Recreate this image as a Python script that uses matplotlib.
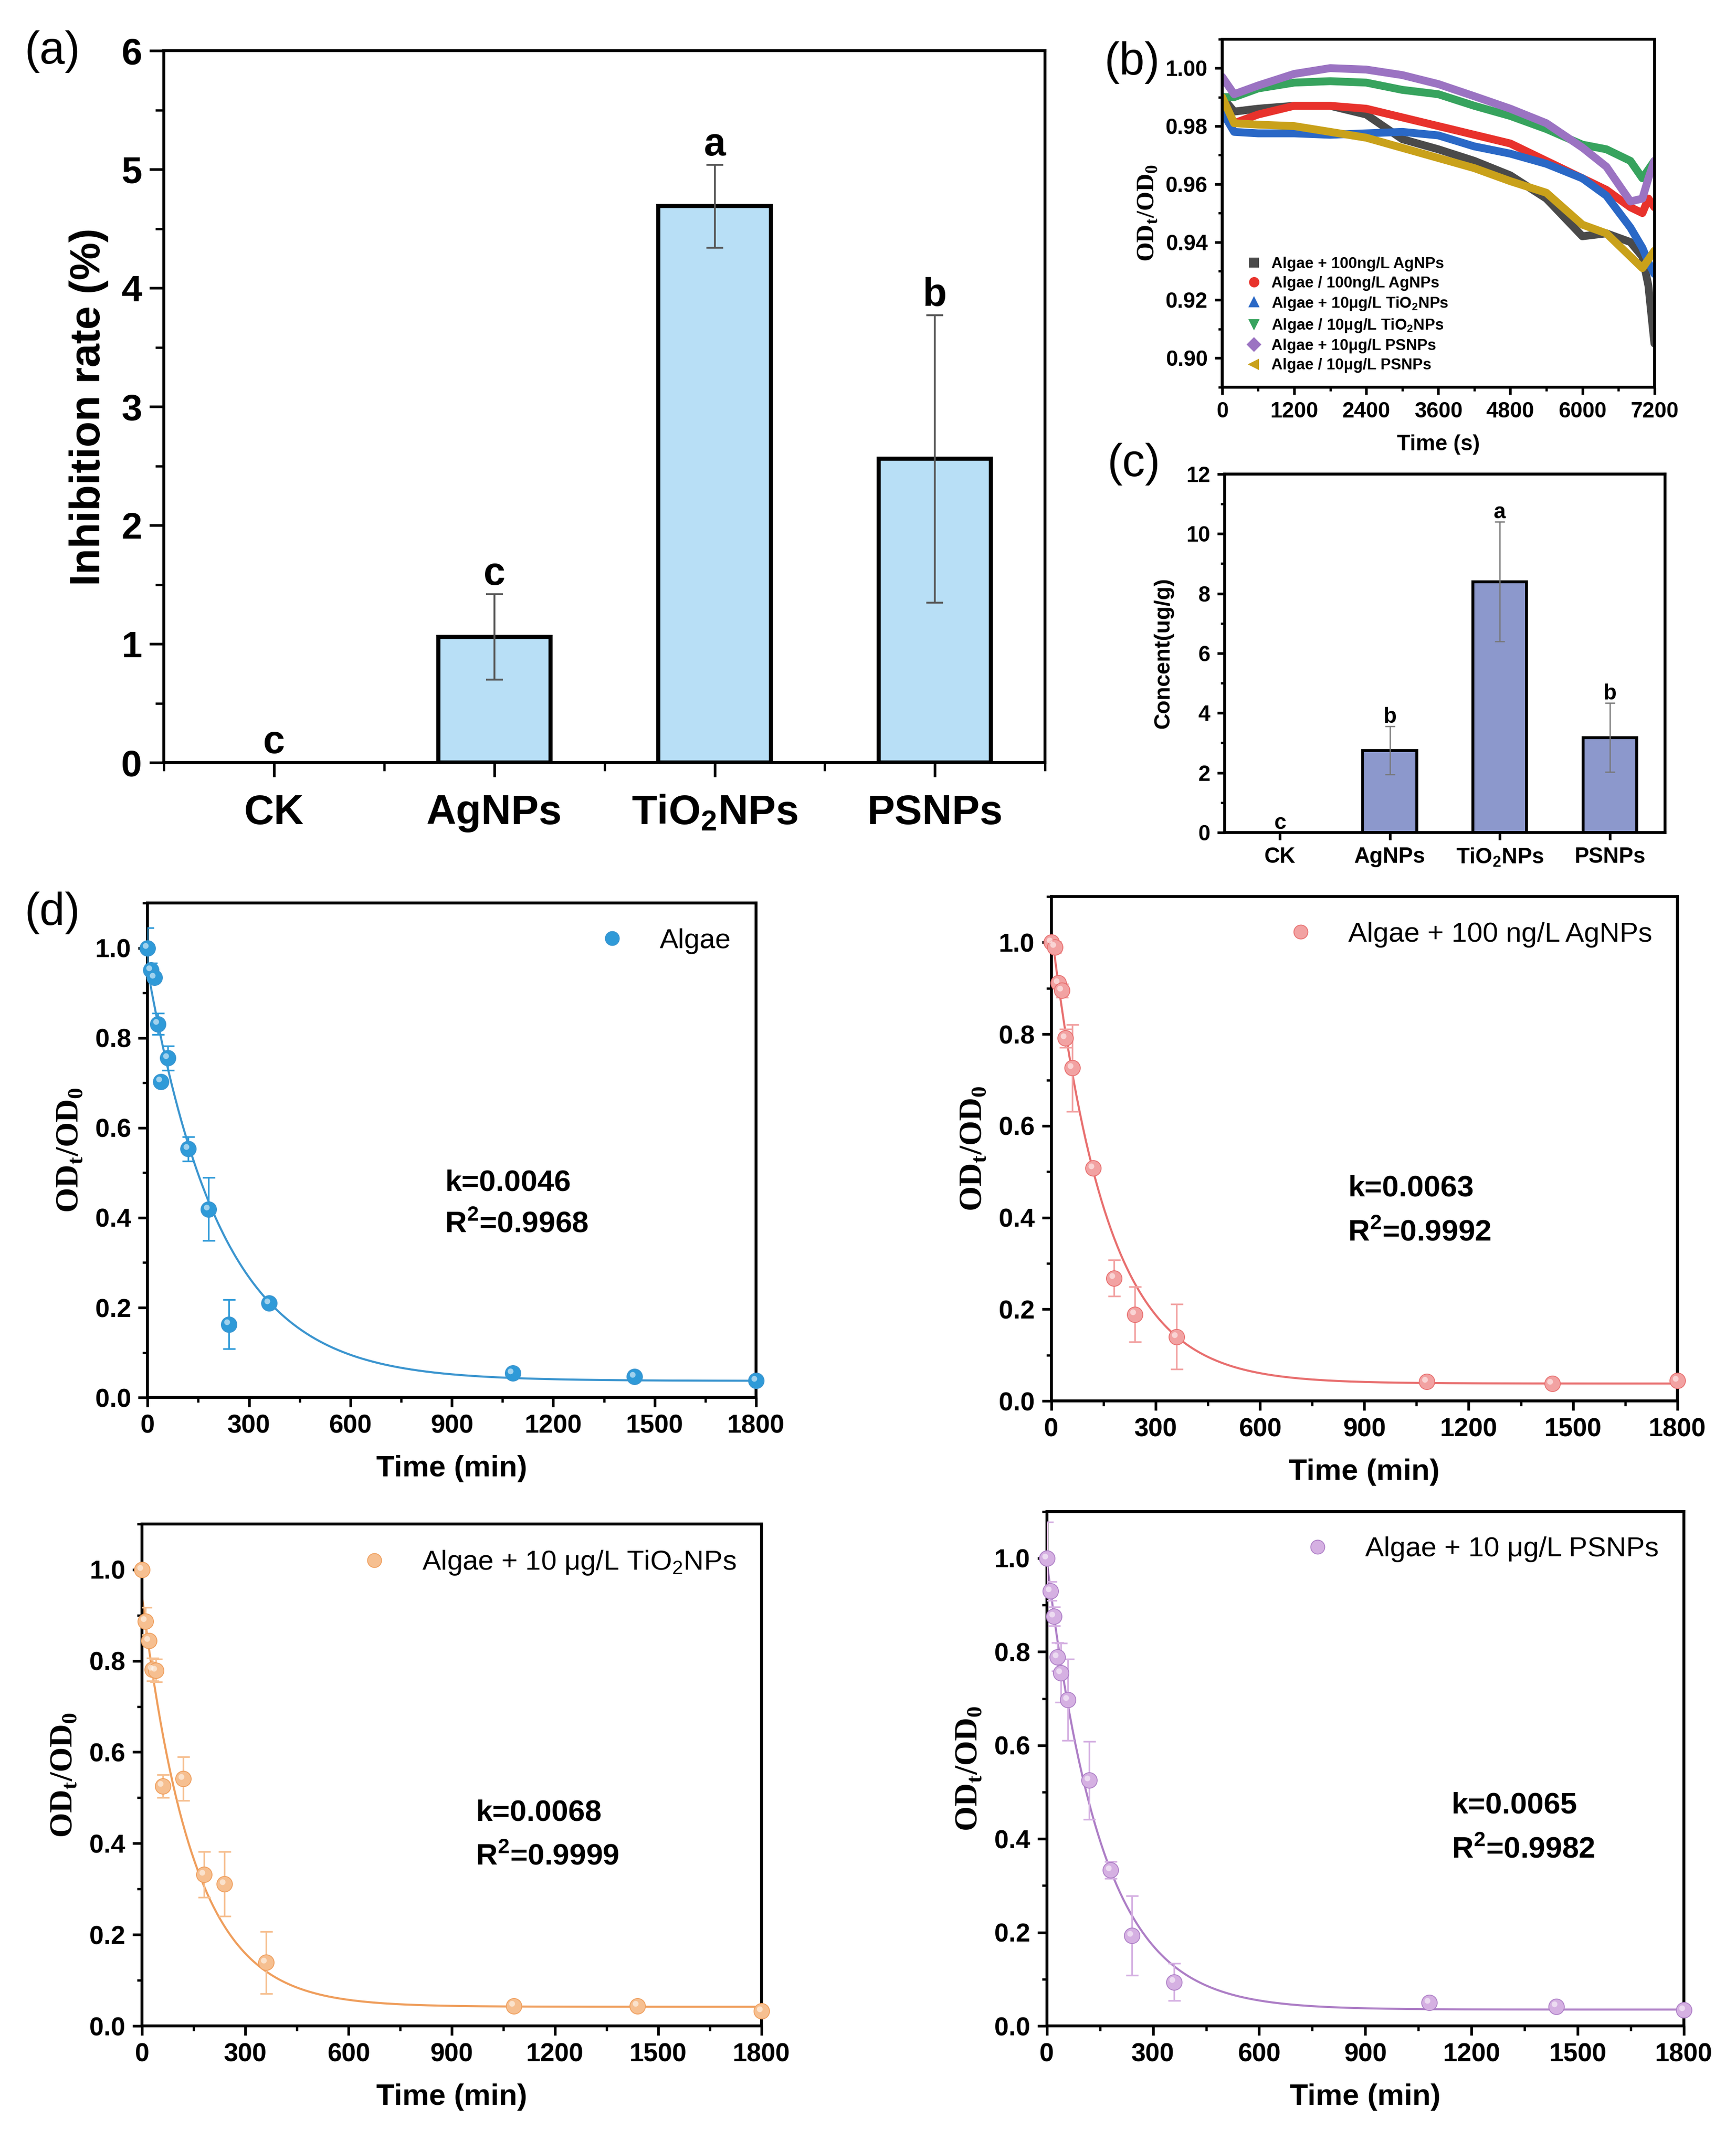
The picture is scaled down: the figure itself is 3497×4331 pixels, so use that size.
import numpy as np
import matplotlib
matplotlib.use("Agg")
import matplotlib.pyplot as plt
from matplotlib.lines import Line2D
from matplotlib.ticker import MultipleLocator, FixedLocator
from matplotlib.transforms import offset_copy

plt.rcParams['font.family'] = ['Liberation Sans', 'DejaVu Sans']
plt.rcParams['axes.linewidth'] = 1.4

# ---------- data ----------
# (a) inhibition rate
groups = ['CK', 'AgNPs', r'TiO$_\mathregular{2}$NPs', 'PSNPs']
inhib = [0.0, 1.06, 4.69, 2.56]
inhib_err = [0.0, 0.36, 0.35, 1.21]
inhib_letters = ['c', 'c', 'a', 'b']

# (c) concentration in algae
conc = [0.0, 2.75, 8.4, 3.18]
conc_err = [0.0, 0.80, 2.0, 1.15]
conc_letters = ['c', 'b', 'a', 'b']

# (b) OD ratio over 2 h
b_time = [0, 200, 600, 1200, 1800, 2400, 3000, 3600, 4200, 4800, 5400, 6000, 6400, 6800, 7000, 7100, 7200]
b_labels = ['Algae + 100ng/L AgNPs', 'Algae / 100ng/L AgNPs',
            r'Algae + 10μg/L TiO$_\mathregular{2}$NPs', r'Algae / 10μg/L TiO$_\mathregular{2}$NPs',
            'Algae + 10μg/L PSNPs', 'Algae / 10μg/L PSNPs']
b_gray = [0.990, 0.985, 0.986, 0.987, 0.987, 0.984, 0.9755, 0.972, 0.968, 0.963, 0.955, 0.942, 0.943, 0.940, 0.935, 0.925, 0.905]
b_red = [0.985, 0.981, 0.984, 0.987, 0.987, 0.986, 0.983, 0.980, 0.977, 0.974, 0.968, 0.962, 0.958, 0.952, 0.950, 0.955, 0.952]
b_blue = [0.985, 0.978, 0.9775, 0.9775, 0.977, 0.9775, 0.978, 0.9768, 0.973, 0.9705, 0.967, 0.962, 0.956, 0.945, 0.938, 0.933, 0.929]
b_green = [0.990, 0.990, 0.993, 0.995, 0.9955, 0.995, 0.9925, 0.991, 0.987, 0.9835, 0.979, 0.9736, 0.972, 0.968, 0.962, 0.965, 0.968]
b_purple = [0.997, 0.991, 0.994, 0.998, 1.000, 0.9995, 0.9976, 0.9945, 0.9903, 0.986, 0.981, 0.9726, 0.966, 0.954, 0.955, 0.962, 0.968]
b_gold = [0.990, 0.981, 0.9805, 0.980, 0.978, 0.976, 0.9725, 0.969, 0.9655, 0.961, 0.957, 0.946, 0.943, 0.935, 0.931, 0.934, 0.937]
b_series = [b_gray, b_red, b_blue, b_green, b_purple, b_gold]
b_colors = ['#4a4a4a', '#e8322c', '#2a68c6', '#37a35e', '#9b73c2', '#c9a11a']
b_markers = ['s', 'o', '^', 'v', 'D', '<']

# (d) sedimentation kinetics
d_time = [0, 10, 20, 30, 40, 60, 120, 180, 240, 360, 1080, 1440, 1800]
d_algae = [1.0, 0.951, 0.934, 0.831, 0.703, 0.755, 0.553, 0.419, 0.163, 0.21, 0.054, 0.046, 0.038]
d_algae_err = [0.045, 0.015, 0.005, 0.024, 0.005, 0.027, 0.027, 0.07, 0.055, 0.005, 0.004, 0.004, 0.004]
d_ag = [1.0, 0.99, 0.912, 0.895, 0.791, 0.726, 0.508, 0.268, 0.189, 0.14, 0.042, 0.038, 0.044]
d_ag_err = [0.01, 0.012, 0.005, 0.015, 0.02, 0.095, 0.005, 0.04, 0.06, 0.071, 0.004, 0.004, 0.004]
d_ti = [1.0, 0.887, 0.844, 0.781, 0.779, 0.526, 0.542, 0.332, 0.311, 0.139, 0.044, 0.044, 0.033]
d_ti_err = [0.0, 0.03, 0.01, 0.025, 0.025, 0.025, 0.048, 0.05, 0.071, 0.068, 0.004, 0.004, 0.004]
d_ps = [1.0, 0.93, 0.876, 0.789, 0.755, 0.697, 0.525, 0.333, 0.193, 0.094, 0.05, 0.042, 0.034]
d_ps_err = [0.077, 0.02, 0.02, 0.03, 0.063, 0.087, 0.083, 0.018, 0.085, 0.04, 0.004, 0.004, 0.004]

d_names = ['Algae', 'Algae + 100 ng/L AgNPs', r'Algae + 10 μg/L TiO$_\mathregular{2}$NPs', 'Algae + 10 μg/L PSNPs']
d_values = [d_algae, d_ag, d_ti, d_ps]
d_errors = [d_algae_err, d_ag_err, d_ti_err, d_ps_err]
d_k = [0.0046, 0.0063, 0.0068, 0.0065]
d_amp = [0.916, 0.99, 0.90, 0.96]
d_base = [0.037, 0.038, 0.042, 0.035]
d_r2 = ['0.9968', '0.9992', '0.9999', '0.9982']
d_text_pos = [(880, 0.477, 0.385), (853, 0.463, 0.367), (970, 0.467, 0.371), (1143, 0.471, 0.377)]
d_pt_colors = ['#2f9ad8', '#f2a2a2', '#f6bf90', '#d5b0e2']
d_line_colors = ['#3b95cf', '#e86f6f', '#ef9e5c', '#ad7ec6']

# ---------- figure ----------
fig = plt.figure(figsize=(3497 / 300, 4331 / 300), dpi=300)

def style_ticks(ax, size, major=4.5, minor=2.5):
    ax.tick_params(which='major', direction='out', length=major, width=1.3, labelsize=size)
    ax.tick_params(which='minor', direction='out', length=minor, width=1.1)
    for lab in ax.get_xticklabels() + ax.get_yticklabels():
        lab.set_fontweight('bold')

x = np.arange(len(groups))

# ----- (a) -----
ax = fig.add_axes([0.0944, 0.6453, 0.5076, 0.3311])
ax.bar(x[1:], inhib[1:], width=0.51, color='#b8dff6', edgecolor='black', linewidth=2.0, zorder=2)
ax.errorbar(x[1:], inhib[1:], yerr=inhib_err[1:], fmt='none', ecolor='#555555',
            elinewidth=0.9, capsize=4, capthick=0.9, zorder=3)
for i in range(len(groups)):
    ax.text(x[i], inhib[i] + inhib_err[i] + 0.08, inhib_letters[i], ha='center', va='baseline',
            fontsize=19, fontweight='bold')
ax.set_xlim(-0.5, 3.5)
ax.set_ylim(0, 6)
ax.set_xticks(x)
ax.set_xticklabels(groups, fontsize=20, fontweight='bold')
ax.xaxis.set_minor_locator(FixedLocator([-0.5, 0.5, 1.5, 2.5, 3.5]))
ax.yaxis.set_major_locator(MultipleLocator(1))
ax.yaxis.set_minor_locator(MultipleLocator(0.5))
style_ticks(ax, 18, major=7, minor=4)
ax.tick_params(axis='x', which='major', labelsize=20, pad=8)
ax.set_ylabel('Inhibition rate (%)', fontsize=20.5, fontweight='bold', labelpad=6)
fig.text(0.030, 0.976, '(a)', fontsize=22, ha='center', va='center')

# ----- (b) -----
ax = fig.add_axes([0.704, 0.820, 0.249, 0.1618])
for ys, c in zip(b_series, b_colors):
    ax.plot(b_time, ys, color=c, linewidth=3.8, solid_capstyle='round', solid_joinstyle='round')
ax.set_xlim(0, 7200)
ax.set_ylim(0.89, 1.01)
ax.xaxis.set_major_locator(MultipleLocator(1200))
ax.xaxis.set_minor_locator(MultipleLocator(600))
ax.yaxis.set_major_locator(MultipleLocator(0.02))
ax.yaxis.set_minor_locator(MultipleLocator(0.01))
ax.yaxis.set_major_formatter(matplotlib.ticker.FormatStrFormatter('%.2f'))
style_ticks(ax, 10.5, major=3.5, minor=2)
ax.set_xlabel('Time (s)', fontsize=10.5, fontweight='bold', labelpad=6)
ax.set_ylabel(r'OD$_\mathregular{t}$/OD$_\mathregular{0}$', fontsize=12, fontweight='bold',
              family='Liberation Serif', labelpad=3)
handles = [Line2D([], [], linestyle='none', marker=m, color=c, markersize=4)
           for m, c in zip(b_markers, b_colors)]
leg = ax.legend(handles, b_labels, loc='lower left', bbox_to_anchor=(0.02, 0.0), frameon=False,
                prop={'size': 7.5, 'weight': 'bold'}, handletextpad=0.5, labelspacing=0.3,
                handlelength=1.2)
fig.text(0.652, 0.971, '(b)', fontsize=22, ha='center', va='center')

# ----- (c) -----
ax = fig.add_axes([0.7055, 0.6128, 0.2535, 0.1667])
ax.bar(x[1:], conc[1:], width=0.49, color='#8c98cc', edgecolor='black', linewidth=1.4, zorder=2)
ax.errorbar(x[1:], conc[1:], yerr=conc_err[1:], fmt='none', ecolor='#777777',
            elinewidth=0.6, capsize=2.5, capthick=0.6, zorder=3)
for i in range(len(groups)):
    ax.text(x[i], conc[i] + conc_err[i] + 0.12, conc_letters[i], ha='center', va='baseline',
            fontsize=10.5, fontweight='bold')
ax.set_xlim(-0.5, 3.5)
ax.set_ylim(0, 12)
ax.set_xticks(x)
ax.set_xticklabels(groups)
ax.yaxis.set_major_locator(MultipleLocator(2))
ax.yaxis.set_minor_locator(MultipleLocator(1))
style_ticks(ax, 10.5, major=3.5, minor=2)
ax.tick_params(axis='x', labelsize=10.5)
ax.set_ylabel('Concent(ug/g)', fontsize=10.8, fontweight='bold', labelpad=6)
fig.text(0.653, 0.784, '(c)', fontsize=22, ha='center', va='center')

# ----- (d) -----
d_boxes = [[0.085, 0.350, 0.3505, 0.2300],
           [0.6056, 0.3484, 0.3606, 0.2346],
           [0.0818, 0.0577, 0.3568, 0.2335],
           [0.603, 0.0577, 0.367, 0.2393]]
t_fit = np.linspace(0, 1800, 400)
for j in range(4):
    ax = fig.add_axes(d_boxes[j])
    ax.plot(t_fit, d_base[j] + d_amp[j] * np.exp(-d_k[j] * t_fit), color=d_line_colors[j],
            linewidth=1.0, zorder=2)
    ax.errorbar(d_time, d_values[j], yerr=d_errors[j], fmt='none', ecolor=d_pt_colors[j],
                elinewidth=0.8, capsize=3, capthick=0.8, zorder=3)
    ax.plot(d_time, d_values[j], linestyle='none', marker='o', markersize=7.5,
            markerfacecolor=d_pt_colors[j], markeredgecolor=d_line_colors[j], markeredgewidth=0.4,
            zorder=4, clip_on=False, label=d_names[j])
    hl = offset_copy(ax.transData, fig=fig, x=-1.0, y=1.0, units='points')
    ax.plot(d_time, d_values[j], linestyle='none', marker='o', markersize=2.8, color='white',
            alpha=0.55, markeredgewidth=0, transform=hl, zorder=5, clip_on=False)
    ax.set_xlim(0, 1800)
    ax.set_ylim(0, 1.1)
    ax.xaxis.set_major_locator(MultipleLocator(300))
    ax.xaxis.set_minor_locator(MultipleLocator(150))
    ax.yaxis.set_major_locator(MultipleLocator(0.2))
    ax.yaxis.set_minor_locator(MultipleLocator(0.1))
    ax.yaxis.set_major_formatter(matplotlib.ticker.FormatStrFormatter('%.1f'))
    style_ticks(ax, 12.5, major=4.5, minor=2.5)
    ax.set_xlabel('Time (min)', fontsize=14.5, fontweight='bold', labelpad=8)
    ax.set_ylabel(r'OD$_\mathregular{t}$/OD$_\mathregular{0}$', fontsize=15.5, fontweight='bold',
                  family='Liberation Serif', labelpad=5)
    ax.legend(loc='upper right', frameon=False, fontsize=13.5, handletextpad=0.7,
              borderaxespad=0.5, markerscale=0.9)
    tx, ky, ry = d_text_pos[j]
    ax.text(tx, ky, 'k=%.4f' % d_k[j], fontsize=14.5, fontweight='bold', va='center')
    ax.text(tx, ry, r'R$^\mathregular{2}$=' + d_r2[j], fontsize=14.5, fontweight='bold', va='center')
fig.text(0.030, 0.5754, '(d)', fontsize=22, ha='center', va='center')

fig.savefig('out.png', dpi=300)
